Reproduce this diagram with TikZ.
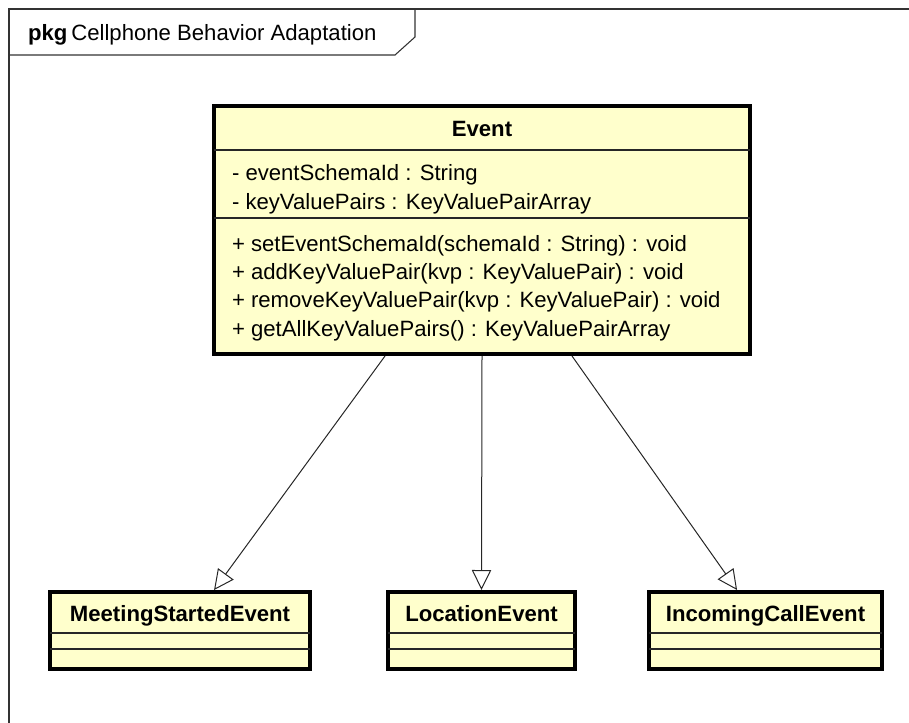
\documentclass[tikz,border=0pt]{standalone}
\usepackage{fontspec}
\setmainfont{Liberation Sans}
\usetikzlibrary{arrows.meta,calc,fit}
\definecolor{classfill}{HTML}{FFFFCC}
\begin{document}
\begin{tikzpicture}[x=0.75pt,y=-0.75pt,
  txt/.style={font=\fontsize{16.6}{20}\selectfont, inner sep=0, outer sep=0, text=black},
  cname/.style={font=\fontsize{16.6}{20}\selectfont\bfseries, inner sep=0, outer sep=0, text=black, anchor=base},
  classbox/.style={draw=black, line width=3pt, fill=classfill, inner sep=0},
  sepline/.style={draw=black!85, line width=1.1pt},
  framel/.style={draw=black!80, line width=0.8pt},
  gen/.style={draw=black!85, line width=0.75pt, -{Triangle[open, length=15pt, width=14.5pt]}}
]
\useasboundingbox (0,0) rectangle (909,722);
\clip (0,0) rectangle (909,722);
% package frame
\draw[framel] (9,9) rectangle (940,740);
\draw[framel] (9,55) -- (395,55) -- (415,37) -- (415,9);
\node[txt, anchor=base west] (title) at (28,40) {\textbf{pkg}\hspace{3pt}Cellphone Behavior Adaptation};

% Event class
\node[classbox, fit={(214,106) (750,354)}] (event) {};
\draw[sepline] (214,150) -- (750,150);
\draw[sepline] (214,218) -- (750,218);
\node[cname] (eventname) at (482,136) {Event};
\node[txt, anchor=base west] (a1) at (232,180) {- eventSchemaId : String};
\node[txt, anchor=base west] (a2) at (232,209) {- keyValuePairs : KeyValuePairArray};
\node[txt, anchor=base west] (m1) at (232,251) {+ setEventSchemaId(schemaId : String) : void};
\node[txt, anchor=base west] (m2) at (232,279) {+ addKeyValuePair(kvp : KeyValuePair) : void};
\node[txt, anchor=base west] (m3) at (232,307) {+ removeKeyValuePair(kvp : KeyValuePair) : void};
\node[txt, anchor=base west] (m4) at (232,336) {+ getAllKeyValuePairs() : KeyValuePairArray};

% subclasses
\node[classbox, fit={(50,592) (310,669)}] (meet) {};
\node[classbox, fit={(388,592) (575,669)}] (loc) {};
\node[classbox, fit={(649,592) (882,669)}] (inc) {};
\foreach \l/\r in {50/310, 388/575, 649/882} {
  \draw[sepline] (\l,633) -- (\r,633);
  \draw[sepline] (\l,649) -- (\r,649);
}
\node[cname] (meetname) at (180,621) {MeetingStartedEvent};
\node[cname] (locname) at (481.5,621) {LocationEvent};
\node[cname] (incname) at (765.5,621) {IncomingCallEvent};

% generalizations
\draw[gen] ($(event.south west)!0.3204!(event.south east)$) -- ($(meet.north west)!0.629!(meet.north east)$);
\draw[gen] ($(event.south west)!0.5!(event.south east)$) -- ($(loc.north west)!0.5!(loc.north east)$);
\draw[gen] ($(event.south west)!0.6667!(event.south east)$) -- ($(inc.north west)!0.38!(inc.north east)$);
\end{tikzpicture}
\end{document}
